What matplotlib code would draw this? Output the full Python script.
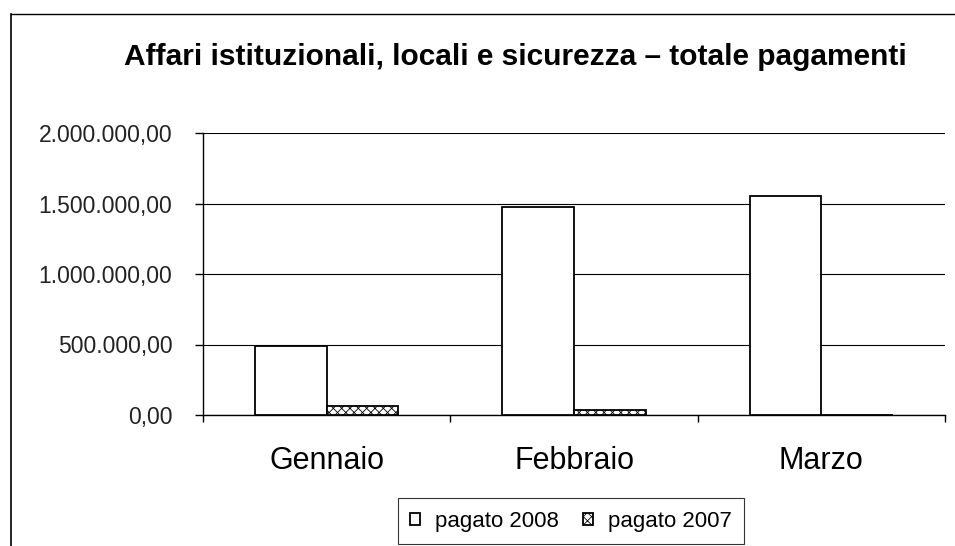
import matplotlib.pyplot as plt
import matplotlib.ticker as mticker
import numpy as np

plt.rcParams['font.family'] = ['Liberation Sans', 'DejaVu Sans']
plt.rcParams['hatch.linewidth'] = 0.6

# dati
mesi = ['Gennaio', 'Febbraio', 'Marzo']
pagato_2008 = [490000, 1475000, 1555000]
pagato_2007 = [65000, 35000, 0]


def fmt_it(v, pos):
    s = '{:,.2f}'.format(v)
    return s.replace(',', 'X').replace('.', ',').replace('X', '.')


fig = plt.figure(figsize=(9.55, 5.46), dpi=100)
ax = fig.add_axes([203 / 955, 1 - 415 / 546, 742 / 955, 282 / 546])

x = np.arange(len(mesi))
w = 0.29
ax.bar(x - w / 2, pagato_2008, w, color='white', edgecolor='black', linewidth=1.3,
       label='pagato 2008', zorder=3)
ax.bar(x + w / 2, pagato_2007, w, color='white', edgecolor='black', linewidth=1.3,
       hatch='xxxx', label='pagato 2007', zorder=3)

ax.set_xlim(-0.5, 2.5)
ax.set_ylim(0, 2000000)
ax.yaxis.set_major_locator(mticker.MultipleLocator(500000))
ax.yaxis.set_major_formatter(mticker.FuncFormatter(fmt_it))
ax.grid(axis='y', color='black', linewidth=0.8, zorder=0)

ax.set_xticks(x)
ax.set_xticklabels(mesi, fontsize=22)
ax.set_xticks([-0.5, 0.5, 1.5, 2.5], minor=True)
ax.tick_params(axis='x', which='major', length=0, pad=22)
ax.tick_params(axis='x', which='minor', length=5, width=1)
ax.tick_params(axis='y', labelsize=16.5, length=5.5, width=1, pad=16.5)
for lab in ax.get_yticklabels():
    lab.set_color('#222222')

for side in ['top', 'right']:
    ax.spines[side].set_visible(False)
ax.spines['left'].set_linewidth(1)
ax.spines['bottom'].set_linewidth(1)

fig.text(515 / 955, 1 - 65 / 546, 'Affari istituzionali, locali e sicurezza \u2013 totale pagamenti',
         ha='center', va='baseline', fontsize=21.5, fontweight='bold')

leg = fig.legend(loc='center', bbox_to_anchor=(571 / 955, 1 - 521 / 546), ncol=2,
                 fontsize=16, frameon=True, fancybox=False, edgecolor='black',
                 handlelength=0.45, handleheight=0.45, handletextpad=0.65, columnspacing=1.1,
                 borderpad=0.55, borderaxespad=0)
leg.get_frame().set_linewidth(0.8)

# cornice esterna del grafico
fig.add_artist(plt.Line2D([11 / 955, 11 / 955], [0, 1 - 14 / 546], color='black', linewidth=1.2))
fig.add_artist(plt.Line2D([11 / 955, 1], [1 - 14 / 546, 1 - 14 / 546], color='black', linewidth=1.0))

fig.savefig('out.png', dpi=100)
